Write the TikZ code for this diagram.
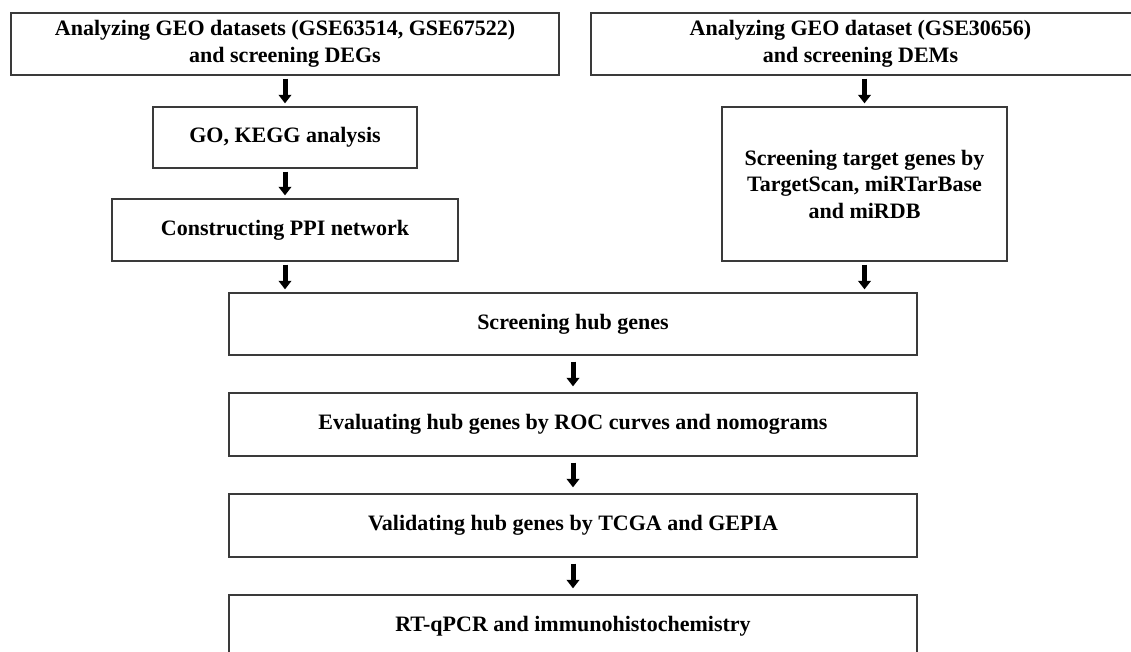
\documentclass[tikz,border=0pt]{standalone}
\usepackage{fontspec}
\setmainfont{Liberation Serif}
\usetikzlibrary{arrows.meta}
\definecolor{boxline}{HTML}{3A3A3A}
\begin{document}
\begin{tikzpicture}[x=1pt,y=-1pt,
  stepbox/.style={draw=boxline, line width=1.3pt, fill=white, inner sep=0pt,
    align=center, font=\fontsize{22}{26.5}\selectfont\bfseries},
  flow/.style={line width=5pt, -{Triangle[width=12.5pt,length=8.5pt]},
    shorten <=3pt, shorten >=3pt},
  flowlong/.style={flow, shorten <=6pt, shorten >=6pt}]
\useasboundingbox (0,0) rectangle (1131,651);
\node[stepbox, minimum width=548pt, minimum height=62pt] (topL) at (285,44)
  {Analyzing GEO datasets (GSE63514, GSE67522)\\and screening DEGs};
\node[stepbox, minimum width=543pt, minimum height=62pt] (topR) at (862.5,44)
  {\hspace*{-4pt}Analyzing GEO dataset (GSE30656)\\\hspace*{-4pt}and screening DEMs};
\node[stepbox, minimum width=264pt, minimum height=61pt] (go) at (285,137.5)
  {GO, KEGG analysis};
\node[stepbox, minimum width=346pt, minimum height=62pt] (ppi) at (285,230)
  {Constructing PPI network};
\node[stepbox, minimum width=285pt, minimum height=154pt] (target) at (864.5,184)
  {Screening target genes by\\TargetScan, miRTarBase\\and miRDB};
\node[stepbox, minimum width=688pt, minimum height=62pt] (hub) at (573,324)
  {Screening hub genes};
\node[stepbox, minimum width=688pt, minimum height=63pt] (eval) at (573,424.5)
  {Evaluating hub genes by ROC curves and nomograms};
\node[stepbox, minimum width=688pt, minimum height=63pt] (valid) at (573,525.5)
  {Validating hub genes by TCGA and GEPIA};
\node[stepbox, minimum width=688pt, minimum height=62pt] (rt) at (573,626)
  {RT-qPCR and immunohistochemistry};
\draw[flow] (topL.south) -- (go.north);
\draw[flow] (go.south) -- (ppi.north);
\draw[flow] (ppi.south) -- (ppi.south |- hub.north);
\draw[flow] (target.north |- topR.south) -- (target.north);
\draw[flow] (target.south) -- (target.south |- hub.north);
\draw[flowlong] (hub.south) -- (eval.north);
\draw[flowlong] (eval.south) -- (valid.north);
\draw[flowlong] (valid.south) -- (rt.north);
\end{tikzpicture}
\end{document}
